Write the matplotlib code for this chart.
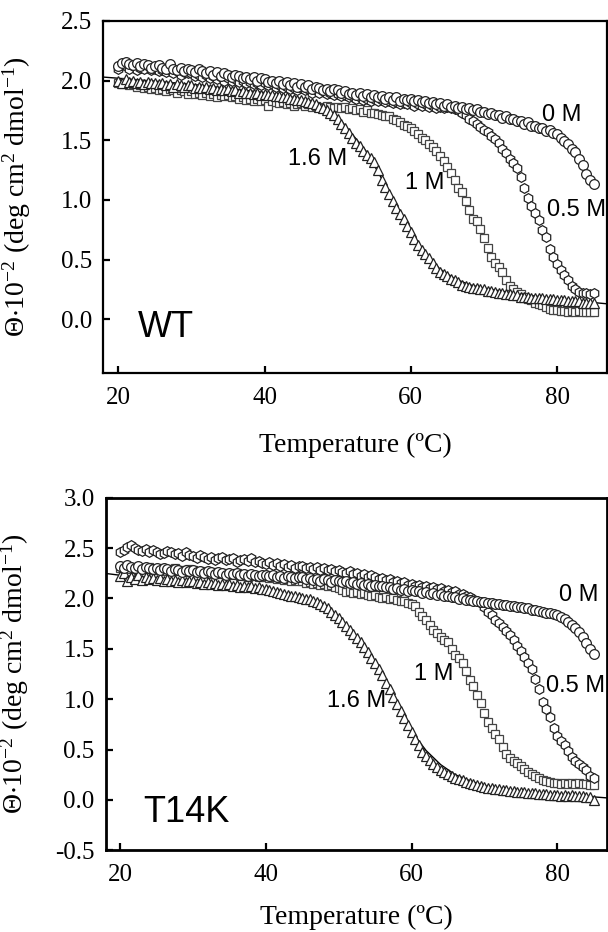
import numpy as np
import matplotlib
matplotlib.use("Agg")
import matplotlib.pyplot as plt
from matplotlib.ticker import FixedLocator, FuncFormatter

plt.rcParams['axes.unicode_minus'] = False
plt.rcParams['mathtext.fontset'] = 'custom'
plt.rcParams['mathtext.rm'] = 'Liberation Serif'
plt.rcParams['mathtext.it'] = 'Liberation Serif:italic'
plt.rcParams['mathtext.default'] = 'regular'

# Temperature grid (deg C), 0.5 degree steps from 20 to 85
temps = np.arange(20.0, 85.01, 0.5)

# ---------------- WT ----------------
wt_0M = [2.12, 2.15, 2.16, 2.14, 2.13, 2.15, 2.12, 2.14, 2.13, 2.11,
         2.12, 2.13, 2.11, 2.10, 2.14, 2.10, 2.09, 2.11, 2.08, 2.10,
         2.09, 2.07, 2.10, 2.08, 2.06, 2.08, 2.05, 2.07, 2.04, 2.06,
         2.05, 2.03, 2.05, 2.04, 2.02, 2.03, 2.01, 2.03, 2.00, 2.02,
         2.01, 1.99, 2.00, 1.98, 2.00, 1.97, 1.99, 1.96, 1.98, 1.95,
         1.97, 1.95, 1.96, 1.93, 1.95, 1.94, 1.92, 1.93, 1.91, 1.93,
         1.92, 1.90, 1.91, 1.89, 1.90, 1.88, 1.90, 1.87, 1.89, 1.86,
         1.88, 1.86, 1.87, 1.85, 1.86, 1.84, 1.86, 1.83, 1.85, 1.84,
         1.85, 1.83, 1.84, 1.82, 1.83, 1.81, 1.82, 1.80, 1.81, 1.79,
         1.80, 1.78, 1.79, 1.77, 1.78, 1.76, 1.77, 1.75, 1.76, 1.74,
         1.74, 1.72, 1.73, 1.71, 1.71, 1.69, 1.70, 1.68, 1.68, 1.66,
         1.66, 1.64, 1.65, 1.62, 1.62, 1.60, 1.60, 1.58, 1.59, 1.56,
         1.55, 1.52, 1.49, 1.47, 1.43, 1.40, 1.34, 1.29, 1.22, 1.17,
         1.13]
wt_05M = [2.10, 2.13, 2.12, 2.10, 2.12, 2.09, 2.11, 2.10, 2.12, 2.09,
          2.10, 2.08, 2.09, 2.07, 2.09, 2.06, 2.08, 2.05, 2.07, 2.06,
          2.06, 2.04, 2.05, 2.03, 2.05, 2.02, 2.04, 2.01, 2.03, 2.00,
          2.02, 2.00, 2.01, 1.99, 2.00, 1.98, 1.99, 1.97, 1.98, 1.96,
          1.98, 1.96, 1.97, 1.95, 1.96, 1.94, 1.95, 1.93, 1.94, 1.92,
          1.94, 1.92, 1.93, 1.90, 1.92, 1.90, 1.91, 1.89, 1.90, 1.88,
          1.89, 1.87, 1.88, 1.86, 1.87, 1.85, 1.86, 1.84, 1.85, 1.83,
          1.85, 1.83, 1.84, 1.82, 1.83, 1.81, 1.82, 1.80, 1.81, 1.80,
          1.81, 1.79, 1.80, 1.79, 1.80, 1.78, 1.79, 1.77, 1.78, 1.77,
          1.78, 1.77, 1.76, 1.75, 1.73, 1.71, 1.68, 1.66, 1.64, 1.61,
          1.59, 1.57, 1.54, 1.51, 1.48, 1.43, 1.39, 1.34, 1.31, 1.27,
          1.19, 1.10, 1.02, 0.95, 0.89, 0.83, 0.75, 0.69, 0.59, 0.52,
          0.46, 0.41, 0.37, 0.33, 0.28, 0.25, 0.23, 0.22, 0.22, 0.21,
          0.22]
wt_1M = [1.98, 1.97, 1.99, 1.96, 1.97, 1.95, 1.96, 1.94, 1.95, 1.93,
         1.94, 1.92, 1.93, 1.91, 1.93, 1.92, 1.90, 1.92, 1.91, 1.89,
         1.91, 1.89, 1.90, 1.88, 1.90, 1.87, 1.89, 1.86, 1.88, 1.87,
         1.88, 1.86, 1.87, 1.85, 1.86, 1.84, 1.85, 1.83, 1.85, 1.83,
         1.84, 1.79, 1.83, 1.82, 1.81, 1.82, 1.80, 1.81, 1.79, 1.80,
         1.81, 1.79, 1.80, 1.78, 1.79, 1.78, 1.77, 1.79, 1.78, 1.77,
         1.78, 1.77, 1.78, 1.76, 1.77, 1.75, 1.76, 1.74, 1.75, 1.73,
         1.73, 1.72, 1.71, 1.70, 1.70, 1.68, 1.67, 1.65, 1.63, 1.62,
         1.60, 1.58, 1.55, 1.52, 1.50, 1.47, 1.44, 1.41, 1.37, 1.33,
         1.28, 1.23, 1.17, 1.10, 1.07, 0.99, 0.92, 0.84, 0.82, 0.76,
         0.68, 0.60, 0.52, 0.47, 0.44, 0.40, 0.33, 0.28, 0.25, 0.23,
         0.21, 0.19, 0.17, 0.16, 0.14, 0.13, 0.12, 0.10, 0.09, 0.08,
         0.08, 0.07, 0.07, 0.06, 0.07, 0.06, 0.07, 0.06, 0.06, 0.06,
         0.06]
wt_16M = [2.00, 1.98, 2.01, 1.99, 2.00, 1.98, 1.99, 1.97, 1.99, 1.98,
          1.98, 1.97, 1.98, 1.96, 1.97, 1.95, 1.97, 1.96, 1.95, 1.96,
          1.96, 1.94, 1.95, 1.94, 1.95, 1.93, 1.94, 1.92, 1.93, 1.92,
          1.93, 1.91, 1.92, 1.90, 1.91, 1.90, 1.90, 1.89, 1.90, 1.88,
          1.89, 1.88, 1.88, 1.87, 1.87, 1.86, 1.86, 1.85, 1.85, 1.84,
          1.84, 1.83, 1.82, 1.81, 1.80, 1.78, 1.77, 1.75, 1.73, 1.71,
          1.68, 1.64, 1.60, 1.56, 1.52, 1.48, 1.45, 1.41, 1.38, 1.35,
          1.32, 1.25, 1.17, 1.11, 1.05, 0.99, 0.93, 0.88, 0.84, 0.78,
          0.73, 0.67, 0.62, 0.58, 0.55, 0.51, 0.47, 0.43, 0.40, 0.38,
          0.36, 0.34, 0.33, 0.31, 0.29, 0.28, 0.27, 0.26, 0.26, 0.25,
          0.25, 0.24, 0.24, 0.23, 0.22, 0.22, 0.21, 0.21, 0.20, 0.20,
          0.19, 0.19, 0.19, 0.18, 0.18, 0.18, 0.18, 0.17, 0.17, 0.17,
          0.16, 0.16, 0.16, 0.15, 0.15, 0.15, 0.15, 0.14, 0.14, 0.14,
          0.14]
wt_fit_x = [17.9, 20, 30, 40, 45, 48, 50, 52, 54, 56, 58, 60, 62, 64, 66, 68, 70, 75, 80, 85, 86.8]
wt_fit_y = [2.03, 2.02, 1.97, 1.90, 1.85, 1.79, 1.70, 1.55, 1.40, 1.18, 0.93, 0.73, 0.55, 0.42,
            0.34, 0.29, 0.26, 0.21, 0.17, 0.14, 0.13]

# ---------------- T14K ----------------
t14k_0M = [2.32, 2.30, 2.33, 2.31, 2.30, 2.32, 2.29, 2.31, 2.30, 2.29,
           2.30, 2.28, 2.30, 2.29, 2.27, 2.29, 2.28, 2.26, 2.28, 2.27,
           2.28, 2.26, 2.27, 2.25, 2.27, 2.26, 2.24, 2.26, 2.25, 2.23,
           2.25, 2.24, 2.25, 2.23, 2.24, 2.22, 2.24, 2.23, 2.22, 2.23,
           2.23, 2.22, 2.23, 2.21, 2.22, 2.20, 2.22, 2.21, 2.20, 2.21,
           2.21, 2.19, 2.20, 2.18, 2.19, 2.17, 2.19, 2.18, 2.16, 2.18,
           2.17, 2.16, 2.17, 2.15, 2.16, 2.14, 2.15, 2.13, 2.14, 2.12,
           2.13, 2.12, 2.12, 2.11, 2.11, 2.09, 2.10, 2.08, 2.09, 2.07,
           2.08, 2.07, 2.07, 2.05, 2.06, 2.04, 2.05, 2.03, 2.04, 2.02,
           2.02, 2.01, 2.01, 1.99, 2.00, 1.98, 1.98, 1.97, 1.97, 1.96,
           1.96, 1.95, 1.95, 1.94, 1.94, 1.93, 1.93, 1.92, 1.92, 1.91,
           1.91, 1.90, 1.90, 1.89, 1.89, 1.88, 1.87, 1.86, 1.86, 1.85,
           1.84, 1.82, 1.80, 1.77, 1.74, 1.71, 1.67, 1.62, 1.56, 1.50,
           1.45]
t14k_05M = [2.46, 2.48, 2.51, 2.53, 2.50, 2.48, 2.47, 2.49, 2.46, 2.48,
            2.46, 2.44, 2.45, 2.47, 2.46, 2.44, 2.45, 2.42, 2.46, 2.43,
            2.42, 2.40, 2.43, 2.41, 2.39, 2.41, 2.38, 2.40, 2.41, 2.38,
            2.39, 2.40, 2.36, 2.38, 2.39, 2.37, 2.40, 2.36, 2.37, 2.35,
            2.34, 2.36, 2.33, 2.35, 2.32, 2.34, 2.31, 2.33, 2.30, 2.32,
            2.32, 2.30, 2.31, 2.29, 2.31, 2.28, 2.30, 2.28, 2.29, 2.27,
            2.28, 2.26, 2.25, 2.27, 2.24, 2.25, 2.22, 2.24, 2.21, 2.23,
            2.21, 2.19, 2.20, 2.18, 2.19, 2.16, 2.17, 2.15, 2.16, 2.13,
            2.14, 2.12, 2.13, 2.11, 2.12, 2.10, 2.11, 2.09, 2.10, 2.07,
            2.08, 2.06, 2.07, 2.04, 2.04, 2.02, 2.01, 1.99, 1.97, 1.95,
            1.91, 1.87, 1.84, 1.79, 1.76, 1.72, 1.68, 1.64, 1.59, 1.53,
            1.48, 1.42, 1.36, 1.30, 1.20, 1.10, 0.97, 0.90, 0.82, 0.71,
            0.63, 0.58, 0.54, 0.49, 0.43, 0.39, 0.36, 0.33, 0.30, 0.24,
            0.22]
t14k_1M = [2.30, 2.32, 2.31, 2.29, 2.31, 2.28, 2.30, 2.29, 2.31, 2.28,
           2.29, 2.30, 2.27, 2.29, 2.28, 2.30, 2.27, 2.28, 2.26, 2.29,
           2.28, 2.26, 2.27, 2.25, 2.26, 2.24, 2.26, 2.24, 2.25, 2.23,
           2.24, 2.23, 2.25, 2.22, 2.23, 2.21, 2.23, 2.22, 2.21, 2.22,
           2.21, 2.20, 2.21, 2.19, 2.20, 2.18, 2.19, 2.17, 2.18, 2.17,
           2.17, 2.15, 2.16, 2.14, 2.15, 2.13, 2.14, 2.12, 2.13, 2.11,
           2.10, 2.08, 2.06, 2.07, 2.05, 2.06, 2.04, 2.05, 2.03, 2.02,
           2.03, 2.01, 2.00, 2.01, 1.99, 2.00, 1.98, 1.97, 1.97, 1.95,
           1.94, 1.92, 1.87, 1.83, 1.79, 1.74, 1.69, 1.66, 1.62, 1.59,
           1.57, 1.50, 1.44, 1.41, 1.36, 1.28, 1.19, 1.13, 1.04, 0.96,
           0.86, 0.77, 0.71, 0.65, 0.60, 0.53, 0.46, 0.42, 0.39, 0.37,
           0.34, 0.31, 0.28, 0.26, 0.24, 0.22, 0.20, 0.19, 0.18, 0.17,
           0.17, 0.16, 0.17, 0.16, 0.17, 0.16, 0.17, 0.16, 0.16, 0.15,
           0.15]
t14k_16M = [2.22, 2.25, 2.17, 2.21, 2.19, 2.23, 2.18, 2.21, 2.19, 2.20,
            2.18, 2.20, 2.17, 2.19, 2.17, 2.18, 2.16, 2.18, 2.16, 2.17,
            2.17, 2.15, 2.16, 2.14, 2.16, 2.14, 2.15, 2.13, 2.14, 2.13,
            2.14, 2.12, 2.13, 2.11, 2.12, 2.11, 2.12, 2.10, 2.11, 2.09,
            2.09, 2.08, 2.07, 2.06, 2.05, 2.04, 2.03, 2.02, 2.02, 2.01,
            2.00, 1.99, 1.99, 1.97, 1.96, 1.94, 1.92, 1.90, 1.87, 1.84,
            1.81, 1.77, 1.73, 1.69, 1.65, 1.61, 1.57, 1.52, 1.47, 1.41,
            1.36, 1.30, 1.24, 1.16, 1.10, 1.02, 0.95, 0.88, 0.81, 0.74,
            0.67, 0.60, 0.54, 0.48, 0.44, 0.40, 0.36, 0.33, 0.30, 0.28,
            0.26, 0.24, 0.22, 0.21, 0.20, 0.18, 0.17, 0.16, 0.15, 0.14,
            0.13, 0.12, 0.12, 0.11, 0.11, 0.10, 0.10, 0.09, 0.09, 0.08,
            0.08, 0.08, 0.07, 0.07, 0.07, 0.06, 0.06, 0.06, 0.05, 0.05,
            0.05, 0.04, 0.05, 0.04, 0.05, 0.04, 0.04, 0.04, 0.03, 0.03,
            0.00]
t14k_fit_x = [17.8, 20, 30, 40, 45, 48, 50, 52, 54, 56, 58, 60, 62, 64, 66, 68, 70, 75, 80, 85, 86.8]
t14k_fit_y = [2.25, 2.23, 2.17, 2.09, 2.01, 1.93, 1.81, 1.66, 1.47, 1.27, 0.97, 0.68, 0.49, 0.35,
              0.25, 0.19, 0.14, 0.08, 0.05, 0.03, 0.02]

x_ticks = [20, 40, 60, 80]
wt_yticks = [0.0, 0.5, 1.0, 1.5, 2.0, 2.5]
t14k_yticks = [-0.5, 0.0, 0.5, 1.0, 1.5, 2.0, 2.5, 3.0]
series_labels = ["0 M", "0.5 M", "1 M", "1.6 M"]

SERIF = 'Liberation Serif'
SANS = 'Liberation Sans'

fig = plt.figure(figsize=(6.08, 9.32), dpi=100)
ax1 = fig.add_axes([0.170, 0.5998, 0.828, 0.3777])
ax2 = fig.add_axes([0.174, 0.0877, 0.824, 0.3783])


def style(ax, ylim, yticks, xlim, lw):
    ax.set_xlim(*xlim)
    ax.set_ylim(*ylim)
    ax.xaxis.set_major_locator(FixedLocator(x_ticks))
    ax.yaxis.set_major_locator(FixedLocator(yticks))
    ax.yaxis.set_major_formatter(FuncFormatter(lambda v, p: f"{v:.1f}"))
    ax.xaxis.set_major_formatter(FuncFormatter(lambda v, p: f"{v:.0f}"))
    for s in ax.spines.values():
        s.set_linewidth(lw)
    ax.tick_params(direction='in', length=5, width=1.6, top=False, right=False,
                   labelsize=18)
    ax.tick_params(axis='x', pad=10)
    ax.tick_params(axis='y', pad=8)
    for lab in ax.get_xticklabels() + ax.get_yticklabels():
        lab.set_fontfamily(SERIF)


def draw(ax, s0, s05, s1, s16, fx, fy):
    ax.plot(fx, fy, color='black', lw=1.0, zorder=1)
    kw = dict(linestyle='none', markerfacecolor='white', markeredgewidth=0.9)
    ax.plot(temps, s1, marker='s', markersize=6.2, markeredgecolor='#444444', zorder=2, **kw)
    ax.plot(temps, s16, marker='^', markersize=7.0, markeredgecolor='#222222', zorder=3, **kw)
    ax.plot(temps, s05, marker='h', markersize=7.0, markeredgecolor='#222222', zorder=4, **kw)
    ax.plot(temps, s0, marker='o', markersize=7.0, markeredgecolor='#222222', zorder=5, **kw)


style(ax1, (-0.45, 2.5), wt_yticks, (17.95, 86.8), 1.6)
style(ax2, (-0.5, 3.0), t14k_yticks, (18.04, 86.8), 2.0)
draw(ax1, wt_0M, wt_05M, wt_1M, wt_16M, wt_fit_x, wt_fit_y)
draw(ax2, t14k_0M, t14k_05M, t14k_1M, t14k_16M, t14k_fit_x, t14k_fit_y)

ylab = r'$\Theta$$\cdot$10$^{-2}$ (deg cm$^{2}$ dmol$^{-1}$)'
for ax, ycoord, xcoord in ((ax1, -0.17, -0.14), (ax2, -0.155, -0.149)):
    ax.set_xlabel('Temperature (ºC)', fontfamily=SERIF, fontsize=20)
    ax.set_ylabel(ylab, fontfamily=SERIF, fontsize=20)
    ax.xaxis.set_label_coords(0.5, ycoord)
    ax.yaxis.set_label_coords(xcoord, 0.5)

tk = dict(fontfamily=SANS, fontsize=17, va='center')
# WT labels
ax1.text(80.6, 1.71, series_labels[0], ha='center', **tk)
ax1.text(78.6, 0.92, series_labels[1], ha='left', clip_on=False, **tk)
ax1.text(61.9, 1.14, series_labels[2], ha='center', **tk)
ax1.text(47.2, 1.34, series_labels[3], ha='center', **tk)
ax1.text(22.6, -0.07, "WT", ha='left', va='center', fontfamily=SANS, fontsize=26)
# T14K labels
ax2.text(82.9, 2.03, series_labels[0], ha='center', **tk)
ax2.text(78.5, 1.13, series_labels[1], ha='left', clip_on=False, **tk)
ax2.text(63.1, 1.25, series_labels[2], ha='center', **tk)
ax2.text(52.5, 0.98, series_labels[3], ha='center', **tk)
ax2.text(23.2, -0.13, "T14K", ha='left', va='center', fontfamily=SANS, fontsize=26)

fig.savefig('out.png', dpi=100)
